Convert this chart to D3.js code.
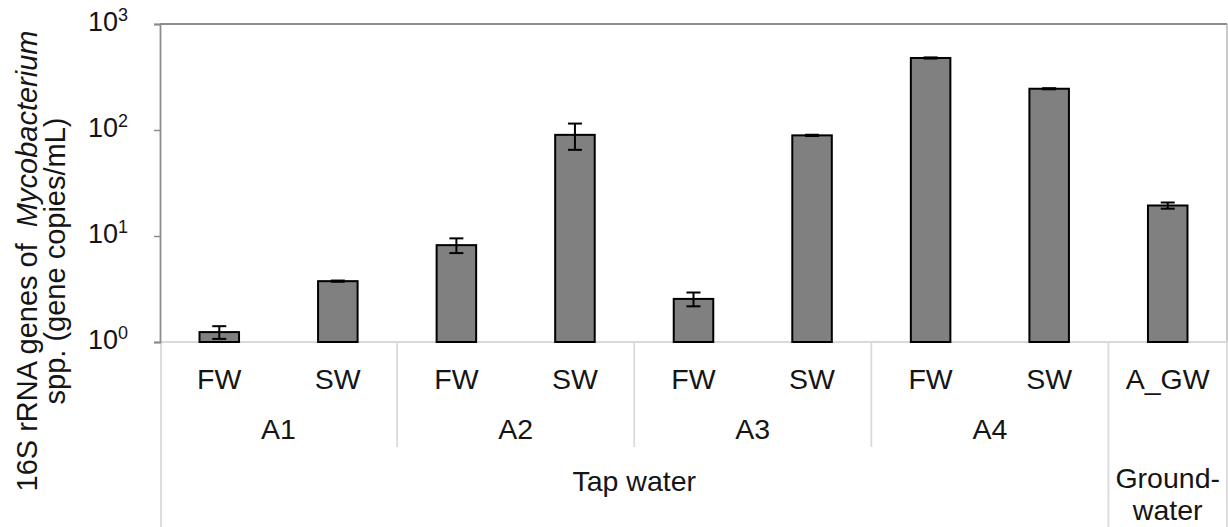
<!DOCTYPE html>
<html>
<head>
<meta charset="utf-8">
<script src="https://cdn.jsdelivr.net/npm/d3@7"></script>
<style>
  body { margin: 0; background: #fff; }
  text { font-family: "Liberation Sans", Arial, sans-serif; fill: #151515; }
</style>
</head>
<body>
<div id="chart"></div>
<script>
// Data
var ids = ['a1fw', 'a1sw', 'a2fw', 'a2sw', 'a3fw', 'a3sw', 'a4fw', 'a4sw', 'agw'],
    labels = ['FW', 'SW', 'FW', 'SW', 'FW', 'SW', 'FW', 'SW', 'A_GW'],
    values = [1.24, 3.75, 8.2, 90, 2.55, 89, 478, 245, 19.4],
    errors = [0.17, 0.05, 1.3, 25, 0.38, 1.2, 6, 3, 1.3],
    sites = [{ name: 'A1', from: 0, to: 1 }, { name: 'A2', from: 2, to: 3 },
             { name: 'A3', from: 4, to: 5 }, { name: 'A4', from: 6, to: 7 }],
    sources = [{ name: ['Tap water'], from: 0, to: 7 }, { name: ['Ground-', 'water'], from: 8, to: 8 }],
    yTicks = [1, 10, 100, 1000];

var width = 1228, height = 527,
    plotLeft = 160, plotRight = 1227, plotTop = 24, plotBottom = 342;

var svg = d3.select('#chart').append('svg')
    .attr('width', width)
    .attr('height', height);

var x = d3.scaleBand()
    .domain(ids)
    .range([plotLeft, plotRight])
    .paddingInner(2 / 3)
    .paddingOuter(1 / 3);

var y = d3.scaleLog()
    .domain([1, 1000])
    .range([plotBottom, plotTop]);

// left boundary of category i
function bandLeft(i) { return plotLeft + i * x.step(); }

// Plot frame
svg.append('line')
    .attr('x1', plotLeft).attr('x2', plotRight)
    .attr('y1', plotTop).attr('y2', plotTop)
    .attr('stroke', '#8c8c8c').attr('stroke-width', 1.8);
svg.append('line')
    .attr('x1', plotRight).attr('x2', plotRight)
    .attr('y1', plotTop).attr('y2', plotBottom)
    .attr('stroke', '#a6a6a6').attr('stroke-width', 1.2);

// Category axis line
svg.append('line')
    .attr('x1', plotLeft).attr('x2', plotRight)
    .attr('y1', plotBottom).attr('y2', plotBottom)
    .attr('stroke', '#d9d9d9').attr('stroke-width', 1.8);

// separators between sites
[2, 4, 6].forEach(i => {
    svg.append('line')
        .attr('x1', bandLeft(i)).attr('x2', bandLeft(i))
        .attr('y1', plotBottom).attr('y2', 447)
        .attr('stroke', '#d9d9d9').attr('stroke-width', 1.8);
});
// separators between sources
[0, 8, 9].forEach(i => {
    var sx = bandLeft(i) + (i === 0 ? 1 : 0);
    svg.append('line')
        .attr('x1', sx).attr('x2', sx)
        .attr('y1', plotBottom).attr('y2', height)
        .attr('stroke', '#d9d9d9').attr('stroke-width', 1.8);
});

// Bars
svg.append('g')
    .selectAll('rect')
    .data(values)
    .enter().append('rect')
    .attr('x', (d, i) => x(ids[i]))
    .attr('width', x.bandwidth())
    .attr('y', d => y(d))
    .attr('height', d => plotBottom - y(d))
    .attr('fill', '#808080')
    .attr('stroke', '#000')
    .attr('stroke-width', 2);

// Error bars
var err = svg.append('g')
    .attr('stroke', '#000')
    .attr('stroke-width', 2)
    .selectAll('g')
    .data(values)
    .enter().append('g');

err.append('line')
    .attr('x1', (d, i) => x(ids[i]) + x.bandwidth() / 2)
    .attr('x2', (d, i) => x(ids[i]) + x.bandwidth() / 2)
    .attr('y1', (d, i) => y(d + errors[i]))
    .attr('y2', (d, i) => y(d - errors[i]));
err.append('line')
    .attr('x1', (d, i) => x(ids[i]) + x.bandwidth() / 2 - 7)
    .attr('x2', (d, i) => x(ids[i]) + x.bandwidth() / 2 + 7)
    .attr('y1', (d, i) => y(d + errors[i]))
    .attr('y2', (d, i) => y(d + errors[i]));
err.append('line')
    .attr('x1', (d, i) => x(ids[i]) + x.bandwidth() / 2 - 7)
    .attr('x2', (d, i) => x(ids[i]) + x.bandwidth() / 2 + 7)
    .attr('y1', (d, i) => y(d - errors[i]))
    .attr('y2', (d, i) => y(d - errors[i]));

// Y axis
var yAxis = svg.append('g')
    .attr('transform', 'translate(' + plotLeft + ',0)')
    .call(d3.axisLeft(y).tickValues(yTicks).tickSize(6).tickFormat(''));
yAxis.select('.domain').attr('stroke', '#8c8c8c').attr('stroke-width', 1.8);
yAxis.selectAll('.tick line').attr('stroke', '#8c8c8c').attr('stroke-width', 1.5);

var tickText = svg.append('g')
    .selectAll('text')
    .data(yTicks)
    .enter().append('text')
    .attr('x', 128)
    .attr('y', d => y(d) + 7)
    .attr('text-anchor', 'end')
    .style('font-size', '27px');
tickText.append('tspan').text('10');
tickText.append('tspan')
    .attr('dy', -10)
    .style('font-size', '18px')
    .text(d => Math.round(Math.log10(d)));

// Category labels
svg.append('g')
    .selectAll('text')
    .data(labels)
    .enter().append('text')
    .attr('x', (d, i) => x(ids[i]) + x.bandwidth() / 2)
    .attr('y', 389)
    .attr('text-anchor', 'middle')
    .style('font-size', '28.5px')
    .text(d => d);

svg.append('g')
    .selectAll('text')
    .data(sites)
    .enter().append('text')
    .attr('x', d => (bandLeft(d.from) + bandLeft(d.to + 1)) / 2)
    .attr('y', 439)
    .attr('text-anchor', 'middle')
    .style('font-size', '28.5px')
    .text(d => d.name);

var src = svg.append('g')
    .selectAll('text')
    .data(sources)
    .enter().append('text')
    .attr('x', d => (bandLeft(d.from) + bandLeft(d.to + 1)) / 2)
    .attr('y', d => d.name.length > 1 ? 488 : 491)
    .attr('text-anchor', 'middle')
    .style('font-size', '28.5px');
src.each(function (d) {
    var t = d3.select(this), cx = t.attr('x');
    d.name.forEach((s, k) => {
        t.append('tspan').attr('x', cx).attr('dy', k === 0 ? 0 : 32).text(s);
    });
});

// Y axis title
var title = svg.append('text')
    .attr('transform', 'translate(37,261) rotate(-90)')
    .attr('text-anchor', 'middle')
    .attr('xml:space', 'preserve')
    .style('font-size', '29px')
    .style('white-space', 'pre');
title.append('tspan').text('16S rRNA genes of  ');
title.append('tspan').style('font-style', 'italic').text('Mycobacterium');
svg.append('text')
    .attr('transform', 'translate(65,261) rotate(-90)')
    .attr('text-anchor', 'middle')
    .style('font-size', '29px')
    .text('spp. (gene copies/mL)');
</script>
</body>
</html>
